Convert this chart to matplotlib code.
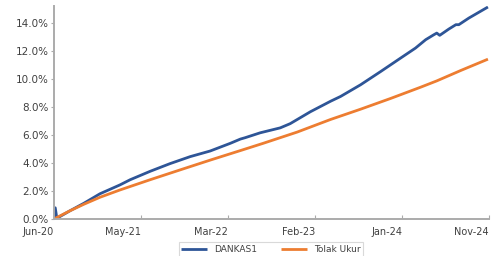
import matplotlib
matplotlib.use("Agg")
import matplotlib.pyplot as plt
import matplotlib.dates as mdates
import pandas as pd
from matplotlib.ticker import FuncFormatter

# DANKAS1 (cumulative return, %)
dankas_dates = ["2020-06-20", "2020-06-25", "2020-07-01", "2020-08-18", "2020-10-09",
                "2020-12-08", "2021-02-20", "2021-03-30", "2021-06-12", "2021-08-25",
                "2021-11-08", "2022-01-21", "2022-04-06", "2022-05-13", "2022-05-31",
                "2022-07-26", "2022-10-08", "2022-11-14", "2023-01-28", "2023-04-13",
                "2023-05-20", "2023-08-02", "2023-10-16", "2023-12-29", "2024-02-22",
                "2024-03-31", "2024-04-30", "2024-05-11", "2024-05-22", "2024-06-25",
                "2024-07-21", "2024-08-01", "2024-09-07", "2024-11-17"]
dankas_vals = [0.0, 0.8, 0.05, 0.58, 1.12,
               1.8, 2.43, 2.8, 3.4, 3.95,
               4.45, 4.85, 5.4, 5.7, 5.8,
               6.15, 6.5, 6.8, 7.65, 8.4,
               8.74, 9.57, 10.52, 11.48, 12.19,
               12.79, 13.14, 13.26, 13.1, 13.55,
               13.86, 13.86, 14.33, 15.12]

# Tolak Ukur (benchmark, %)
tolak_dates = ["2020-06-20", "2020-08-18", "2020-10-09", "2020-12-08", "2021-02-20",
               "2021-06-12", "2021-10-01", "2022-01-21", "2022-05-13", "2022-08-06",
               "2022-12-10", "2023-04-13", "2023-08-02", "2023-11-22", "2024-03-12",
               "2024-05-11", "2024-08-09", "2024-11-17"]
tolak_vals = [0.0, 0.58, 1.05, 1.55, 2.07,
              2.8, 3.5, 4.2, 4.88, 5.4,
              6.2, 7.1, 7.83, 8.6, 9.4,
              9.85, 10.6, 11.4]

tick_dates = ["2020-06-20", "2021-05-09", "2022-03-28", "2023-02-14", "2024-01-03", "2024-11-21"]
y_ticks = [0, 2, 4, 6, 8, 10, 12, 14]

text_color = "#404040"
spine_color = "#ABABAB"

fig = plt.figure(figsize=(4.99, 2.56), dpi=100)
ax = fig.add_axes([0.108, 0.1445, 0.872, 0.8325])

ax.plot(pd.to_datetime(dankas_dates), dankas_vals, color="#2E5597", lw=2.0,
        label="DANKAS1", solid_capstyle="butt")
ax.plot(pd.to_datetime(tolak_dates), tolak_vals, color="#ED7D31", lw=2.0,
        label="Tolak Ukur", solid_capstyle="butt")

ax.set_xlim(pd.Timestamp(tick_dates[0]), pd.Timestamp(tick_dates[-1]))
ax.set_ylim(0, 15.2)
ax.set_xticks(pd.to_datetime(tick_dates))
ax.xaxis.set_major_formatter(mdates.DateFormatter("%b-%y"))
ax.set_yticks(y_ticks)
ax.yaxis.set_major_formatter(FuncFormatter(lambda v, p: f"{v:.1f}%"))

for side in ["top", "right"]:
    ax.spines[side].set_visible(False)
for side in ["left", "bottom"]:
    ax.spines[side].set_color(spine_color)
    ax.spines[side].set_linewidth(1.4)

ax.tick_params(axis="y", direction="out", length=2, width=0.8, color=spine_color,
               labelsize=7.5, labelcolor=text_color, pad=2)
ax.tick_params(axis="x", direction="in", length=3, width=0.8, color=spine_color,
               labelsize=7, labelcolor=text_color, pad=6)
for lbl in ax.get_xticklabels():
    lbl.set_horizontalalignment("right")

leg = fig.legend(loc="center", bbox_to_anchor=(0.543, 0.026), ncol=2, fontsize=6.5,
                 frameon=True, fancybox=False, handlelength=2.8, columnspacing=2.7,
                 borderpad=0.3, borderaxespad=0, handletextpad=0.8)
leg.get_frame().set_edgecolor("#D0D0D0")
leg.get_frame().set_linewidth(0.8)
for t in leg.get_texts():
    t.set_color(text_color)

fig.savefig("out.png", dpi=100)
